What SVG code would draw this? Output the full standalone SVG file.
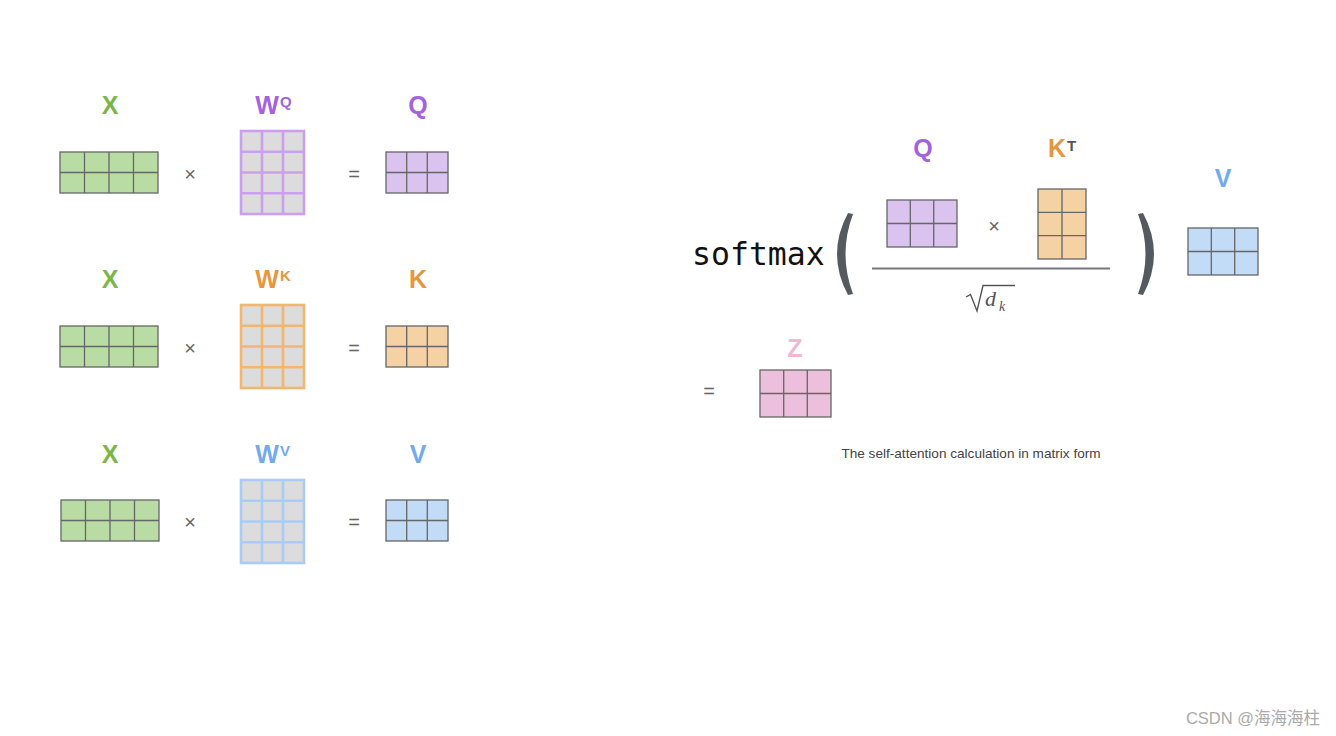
<svg xmlns="http://www.w3.org/2000/svg" width="1336" height="736" viewBox="0 0 1336 736">
<style>
.lbl{font-family:"Liberation Sans",Arial,sans-serif;font-weight:bold;font-size:25px;text-anchor:middle}
.sup{font-family:"Liberation Sans",Arial,sans-serif;font-weight:bold;font-size:15px}
.op{font-family:"Liberation Sans",Arial,sans-serif;font-size:20px;fill:#666;text-anchor:middle}
.g{stroke:#666;stroke-width:1.3}
.w{fill:#dcdcdc;stroke-width:2.6}
.green{fill:#b9dca4}.purple{fill:#dbc3ef}.orange{fill:#f4d2a3}.blue{fill:#c2dbf7}.pink{fill:#ecc0dc}
.cg{fill:#7ab648}.cp{fill:#a462df}.co{fill:#e8963e}.cb{fill:#72aaf0}.cz{fill:#f0b8d6}
</style>
<rect width="1336" height="736" fill="#fff"/>

<!-- Row 1 -->
<g id="row1">
<text class="lbl cg" x="110" y="114">X</text>
<g id="x1"><rect class="green g" x="60" y="152" width="98" height="41"/><path class="g" d="M84.5 152V193M109 152V193M133.5 152V193M60 172.5H158"/></g>
<text class="op" x="190" y="181">×</text>
<text class="lbl cp" x="267" y="114">W</text><text class="sup cp" x="280" y="107">Q</text>
<g id="wq"><rect class="w" stroke="#cb9ff0" x="241" y="131" width="63" height="83"/><path stroke="#cb9ff0" stroke-width="2.6" d="M262 131V214M283 131V214M241 151.75H304M241 172.5H304M241 193.25H304"/></g>
<text class="op" x="354" y="181">=</text>
<text class="lbl cp" x="418" y="114">Q</text>
<g id="q1"><rect class="purple g" x="386" y="152" width="62" height="41"/><path class="g" d="M406.7 152V193M427.3 152V193M386 172.5H448"/></g>
</g>

<!-- Row 2 -->
<g id="row2">
<text class="lbl cg" x="110" y="288">X</text>
<g id="x2"><rect class="green g" x="60" y="326" width="98" height="41"/><path class="g" d="M84.5 326V367M109 326V367M133.5 326V367M60 346.5H158"/></g>
<text class="op" x="190" y="355">×</text>
<text class="lbl co" x="267" y="288">W</text><text class="sup co" x="280" y="281">K</text>
<g id="wk"><rect class="w" stroke="#f3b66e" x="241" y="305" width="63" height="83"/><path stroke="#f3b66e" stroke-width="2.6" d="M262 305V388M283 305V388M241 325.75H304M241 346.5H304M241 367.25H304"/></g>
<text class="op" x="354" y="355">=</text>
<text class="lbl co" x="418" y="288">K</text>
<g id="k1"><rect class="orange g" x="386" y="326" width="62" height="41"/><path class="g" d="M406.7 326V367M427.3 326V367M386 346.5H448"/></g>
</g>

<!-- Row 3 -->
<g id="row3">
<text class="lbl cg" x="110" y="463">X</text>
<g id="x3"><rect class="green g" x="61" y="500" width="98" height="41"/><path class="g" d="M85.5 500V541M110 500V541M134.5 500V541M61 520.5H159"/></g>
<text class="op" x="190" y="529">×</text>
<text class="lbl cb" x="267" y="463">W</text><text class="sup cb" x="280" y="456">V</text>
<g id="wv"><rect class="w" stroke="#a9cbf5" x="241" y="480" width="63" height="83"/><path stroke="#a9cbf5" stroke-width="2.6" d="M262 480V563M283 480V563M241 500.75H304M241 521.5H304M241 542.25H304"/></g>
<text class="op" x="354" y="529">=</text>
<text class="lbl cb" x="418" y="463">V</text>
<g id="v1"><rect class="blue g" x="386" y="500" width="62" height="41"/><path class="g" d="M406.7 500V541M427.3 500V541M386 520.5H448"/></g>
</g>

<!-- Formula -->
<g id="formula">
<text x="692" y="265" font-family="DejaVu Sans Mono,monospace" font-size="31.5" fill="#111">softmax</text>
<path d="M848 213L853 214Q838 254 853 294L848 295Q826 254 848 213Z" fill="#555a60"/>
<path d="M1143 213L1138 214Q1153 254 1138 294L1143 295Q1165 254 1143 213Z" fill="#555a60"/>
<text class="lbl cp" x="923" y="157">Q</text>
<g id="q2"><rect class="purple g" x="887" y="200" width="70" height="47"/><path class="g" d="M910.3 200V247M933.7 200V247M887 223.5H957"/></g>
<text class="op" x="994" y="233">×</text>
<text class="lbl co" x="1057" y="157">K</text><text class="sup" fill="#555" x="1067" y="151">T</text>
<g id="kt"><rect class="orange g" x="1038" y="189" width="48" height="70"/><path class="g" d="M1062 189V259M1038 212.3H1086M1038 235.7H1086"/></g>
<line x1="872" y1="268.5" x2="1110" y2="268.5" stroke="#777" stroke-width="2"/>
<path d="M966 297L970.5 294.5L977 311L983 285.5H1015" fill="none" stroke="#555" stroke-width="1.4"/>
<text x="985" y="306" font-family="Liberation Serif,serif" font-style="italic" font-size="22" fill="#555">d</text>
<text x="999" y="311" font-family="Liberation Serif,serif" font-style="italic" font-size="14" fill="#555">k</text>
<text class="lbl cb" x="1223" y="187">V</text>
<g id="v2"><rect class="blue g" x="1188" y="228" width="70" height="47"/><path class="g" d="M1211.3 228V275M1234.7 228V275M1188 251.5H1258"/></g>
<text class="op" x="709" y="398">=</text>
<text class="lbl cz" x="795" y="357">Z</text>
<g id="z"><rect class="pink g" x="760" y="370" width="71" height="47"/><path class="g" d="M783.7 370V417M807.3 370V417M760 393.5H831"/></g>
<text x="971" y="458" font-family="Liberation Sans,Arial,sans-serif" font-size="13.6" fill="#444" text-anchor="middle">The self-attention calculation in matrix form</text>
</g>
<text x="1320" y="724" font-family="Liberation Sans,Noto Sans CJK SC,sans-serif" font-size="16.5" fill="#aaa" text-anchor="end">CSDN @海海海柱</text>
</svg>
